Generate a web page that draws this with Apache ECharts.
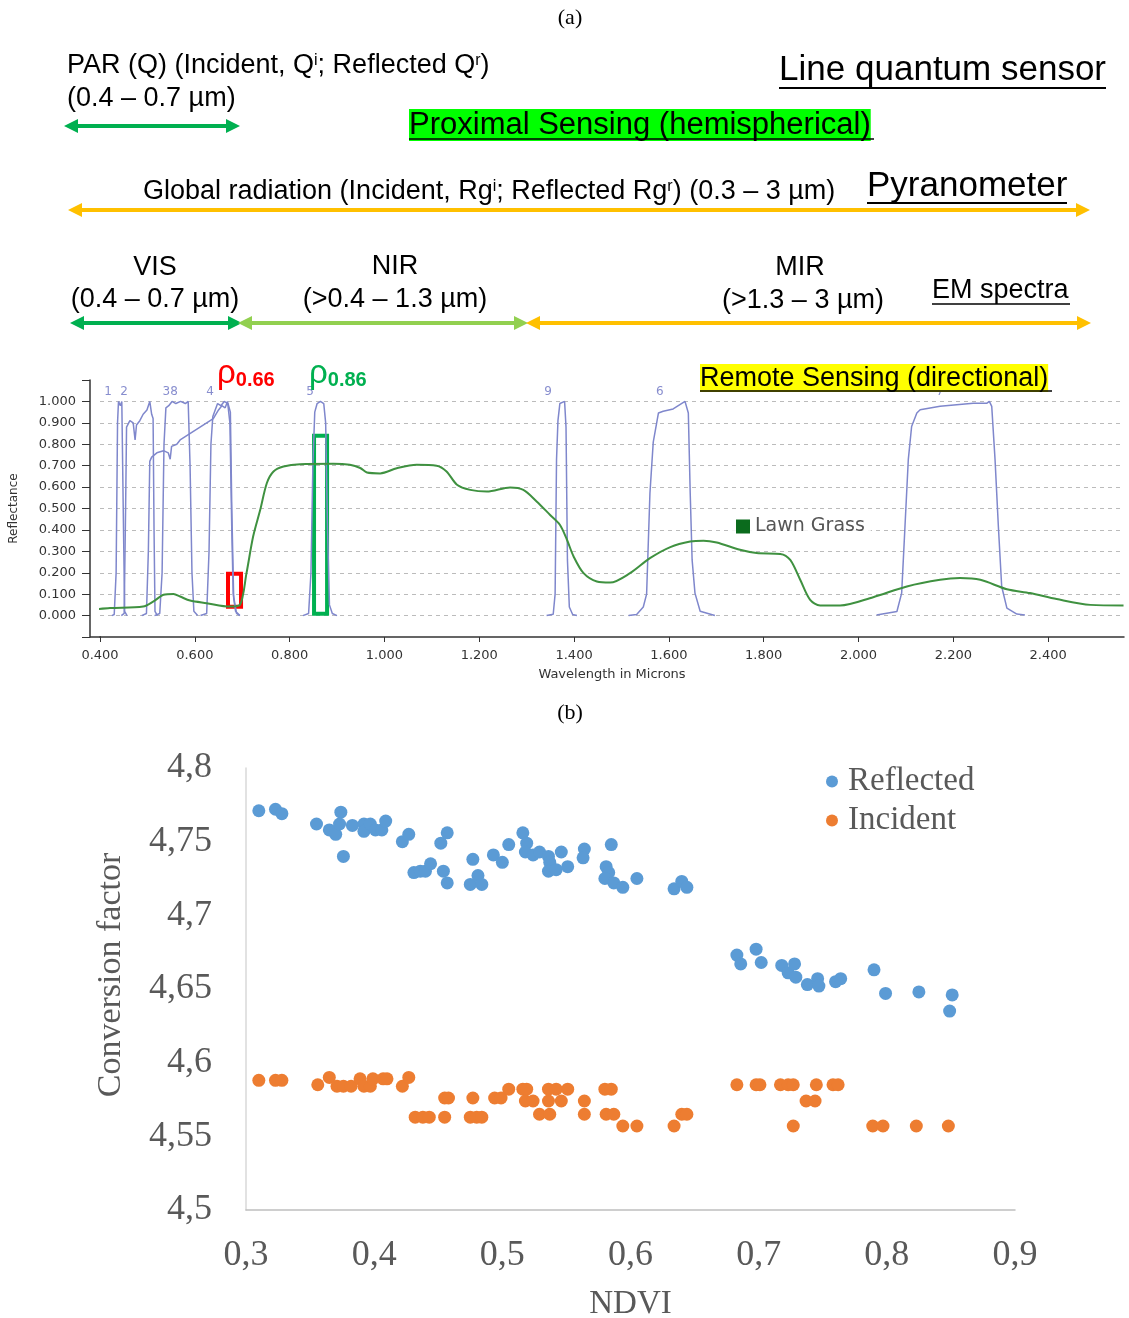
<!DOCTYPE html>
<html style="height: 100%">
<head>
    <meta charset="utf-8">
    <title>Spectra and conversion factor</title>
</head>
<body style="margin: 0">
<div id="container" style="width: 1129px; height: 1318px"></div>

<script src="https://cdn.jsdelivr.net/npm/echarts@6.0.0/dist/echarts.min.js" type="text/javascript"></script>

<script type="text/javascript">

    // (a) lawn grass reflectance, [wavelength µm, reflectance]
    var lawnGrass = [[0.396,0.030],[0.421,0.035],[0.491,0.042],[0.512,0.065],[0.534,0.097],[0.555,0.101],[0.569,0.089],
        [0.590,0.070],[0.625,0.058],[0.674,0.042],[0.695,0.050],[0.709,0.198],[0.723,0.369],[0.738,0.494],[0.752,0.619],
        [0.766,0.673],[0.787,0.696],[0.822,0.707],[0.892,0.709],[0.927,0.704],[0.949,0.689],[0.963,0.668],[0.991,0.664],
        [1.026,0.688],[1.068,0.704],[1.110,0.700],[1.131,0.673],[1.153,0.611],[1.181,0.587],[1.216,0.579],[1.265,0.598],
        [1.293,0.587],[1.321,0.533],[1.349,0.471],[1.370,0.424],[1.385,0.354],[1.399,0.276],[1.420,0.198],[1.448,0.159],
        [1.476,0.154],[1.518,0.198],[1.560,0.268],[1.603,0.320],[1.645,0.346],[1.673,0.350],[1.701,0.341],[1.750,0.307],
        [1.785,0.292],[1.835,0.288],[1.856,0.260],[1.877,0.167],[1.898,0.073],[1.919,0.047],[1.961,0.047],[2.031,0.086],
        [2.102,0.136],[2.172,0.167],[2.214,0.175],[2.257,0.167],[2.313,0.123],[2.362,0.105],[2.418,0.077],[2.489,0.050],
        [2.559,0.047]];

    // sensor band responses
    var band1 = [[0.425,0],[0.430,0.005],[0.434,0.2],[0.437,0.9],[0.439,1.0],[0.443,0.98],[0.446,1.0],[0.449,0.5],[0.452,0.02],[0.457,0]];
    var band2 = [[0.445,0],[0.451,0.01],[0.454,0.5],[0.456,0.88],[0.463,0.91],[0.470,0.90],[0.474,0.82],[0.477,0.89],
        [0.484,0.91],[0.491,0.94],[0.499,0.96],[0.505,1.0],[0.509,0.94],[0.512,0.92],[0.514,0.4],[0.516,0.02],[0.521,0]];
    var band3 = [[0.515,0],[0.526,0.01],[0.531,0.2],[0.535,0.8],[0.539,0.97],[0.545,0.98],[0.552,1.0],[0.560,0.99],
        [0.570,1.0],[0.580,0.99],[0.586,1.0],[0.590,0.7],[0.594,0.2],[0.598,0.02],[0.606,0]];
    var band4 = [[0.612,0],[0.625,0.01],[0.630,0.3],[0.634,0.8],[0.638,0.93],[0.643,0.96],[0.648,0.99],[0.655,0.98],
        [0.662,1.0],[0.670,0.99],[0.675,0.95],[0.678,0.5],[0.682,0.08],[0.686,0.02],[0.695,0]];
    var band8 = [[0.488,0],[0.498,0.01],[0.502,0.3],[0.505,0.72],[0.509,0.74],[0.520,0.76],[0.534,0.77],[0.544,0.76],
        [0.548,0.73],[0.551,0.79],[0.562,0.80],[0.569,0.82],[0.583,0.84],[0.597,0.86],[0.611,0.88],[0.625,0.90],
        [0.639,0.92],[0.650,0.96],[0.657,0.98],[0.664,0.97],[0.669,1.0],[0.674,0.9],[0.678,0.4],[0.681,0.1],[0.688,0.01],[0.695,0]];
    var band5 = [[0.828,0],[0.840,0.01],[0.845,0.2],[0.849,0.7],[0.853,0.95],[0.858,0.99],[0.865,1.0],[0.872,0.99],
        [0.876,0.9],[0.880,0.4],[0.884,0.05],[0.890,0.01],[0.900,0]];
    var band9 = [[1.342,0],[1.356,0.006],[1.360,0.1],[1.363,0.73],[1.366,0.91],[1.370,0.99],[1.380,1.0],[1.383,0.88],
        [1.386,0.26],[1.390,0.04],[1.397,0.005],[1.406,0]];
    var band6 = [[1.515,0],[1.532,0.005],[1.546,0.04],[1.553,0.10],[1.560,0.57],[1.567,0.81],[1.578,0.946],[1.588,0.954],
        [1.609,0.965],[1.634,1.0],[1.641,0.946],[1.645,0.57],[1.649,0.26],[1.655,0.105],[1.666,0.02],[1.697,0]];
    var band7 = [[2.038,0.003],[2.081,0.019],[2.091,0.105],[2.098,0.416],[2.105,0.728],[2.112,0.883],[2.123,0.946],
        [2.130,0.961],[2.172,0.977],[2.242,0.992],[2.271,0.992],[2.276,1.0],[2.281,0.977],[2.288,0.728],[2.295,0.416],
        [2.302,0.136],[2.313,0.035],[2.334,0.007],[2.351,0.003]];
    var bandNames = ['1', '2', '38', '4', '5', '9', '6', '7'];
    var bandNameX = [0.417, 0.451, 0.548, 0.632, 0.843, 1.345, 1.581, 2.172];

    // boxes marking the red (0.66) and NIR (0.86) reflectances
    var redBox = [[0.670, 0.041], [0.6975, 0.195]];
    var nirBox = [[0.8515, 0.008], [0.879, 0.84]];

    // (b) conversion factor vs NDVI
    var reflected = [[0.310,4.771],[0.323,4.772],[0.328,4.769],[0.355,4.762],[0.374,4.770],[0.365,4.758],[0.370,4.755],
        [0.373,4.762],[0.383,4.761],[0.392,4.762],[0.392,4.757],[0.397,4.762],[0.401,4.758],[0.406,4.758],[0.409,4.764],
        [0.376,4.740],[0.422,4.750],[0.427,4.755],[0.452,4.749],[0.457,4.756],[0.431,4.729],[0.436,4.730],[0.440,4.730],
        [0.444,4.735],[0.454,4.730],[0.457,4.722],[0.477,4.738],[0.475,4.721],[0.481,4.727],[0.484,4.721],[0.493,4.741],
        [0.500,4.736],[0.505,4.748],[0.516,4.756],[0.519,4.749],[0.518,4.743],[0.524,4.741],[0.529,4.743],[0.536,4.740],
        [0.537,4.736],[0.536,4.730],[0.542,4.731],[0.546,4.743],[0.551,4.733],[0.564,4.745],[0.563,4.739],[0.585,4.748],
        [0.581,4.733],[0.583,4.729],[0.580,4.725],[0.587,4.722],[0.594,4.719],[0.605,4.725],[0.634,4.718],[0.640,4.723],
        [0.644,4.719],[0.683,4.673],[0.686,4.667],[0.698,4.677],[0.702,4.668],[0.718,4.666],[0.723,4.661],[0.728,4.667],
        [0.729,4.658],[0.738,4.653],[0.746,4.657],[0.747,4.652],[0.760,4.655],[0.764,4.657],[0.790,4.663],[0.799,4.647],
        [0.825,4.648],[0.851,4.646],[0.849,4.635]];
    var incident = [[0.310,4.588],[0.323,4.588],[0.328,4.588],[0.356,4.585],[0.365,4.590],[0.371,4.584],[0.376,4.584],
        [0.382,4.584],[0.389,4.589],[0.392,4.584],[0.397,4.584],[0.399,4.589],[0.407,4.589],[0.410,4.589],[0.422,4.584],
        [0.427,4.590],[0.455,4.576],[0.458,4.576],[0.477,4.576],[0.494,4.576],[0.432,4.563],[0.438,4.563],[0.443,4.563],
        [0.455,4.563],[0.475,4.563],[0.480,4.563],[0.484,4.563],[0.499,4.576],[0.505,4.582],[0.516,4.582],[0.519,4.582],
        [0.518,4.574],[0.524,4.574],[0.529,4.565],[0.537,4.565],[0.536,4.582],[0.542,4.582],[0.551,4.582],[0.536,4.574],
        [0.546,4.574],[0.564,4.574],[0.564,4.565],[0.580,4.582],[0.585,4.582],[0.581,4.565],[0.587,4.565],[0.594,4.557],
        [0.605,4.557],[0.634,4.557],[0.640,4.565],[0.644,4.565],[0.683,4.585],[0.698,4.585],[0.701,4.585],[0.717,4.585],
        [0.723,4.585],[0.727,4.585],[0.745,4.585],[0.758,4.585],[0.762,4.585],[0.737,4.574],[0.744,4.574],[0.727,4.557],
        [0.789,4.557],[0.797,4.557],[0.823,4.557],[0.848,4.557]];

    var sans = 'Liberation Sans';
    var serif = 'Liberation Serif';

    function arrow(x1, x2, y, color, leftHead, rightHead) {
        var h = 14, w = 7;
        var els = [{
            type: 'line', z: 10,
            shape: {x1: x1 + (leftHead ? h - 2 : 0), y1: y, x2: x2 - (rightHead ? h - 2 : 0), y2: y},
            style: {stroke: color, lineWidth: 4}
        }];
        if (leftHead) els.push({type: 'polygon', z: 10, shape: {points: [[x1, y], [x1 + h, y - w], [x1 + h, y + w]]}, style: {fill: color}});
        if (rightHead) els.push({type: 'polygon', z: 10, shape: {points: [[x2, y], [x2 - h, y - w], [x2 - h, y + w]]}, style: {fill: color}});
        return els;
    }

    function text(x, y, str, size, align, extra) {
        var style = {
            text: str, x: x, y: y, fontSize: size, fontFamily: sans, fill: '#000',
            align: align, textAlign: align, verticalAlign: 'middle', textVerticalAlign: 'middle',
            rich: {s: {fontSize: Math.round(size * 0.6), fontFamily: sans, verticalAlign: 'top'}}
        };
        for (var k in extra) style[k] = extra[k];
        return {type: 'text', z: 20, style: style};
    }

    function underline(x1, x2, y, width) {
        return {type: 'line', z: 21, shape: {x1: x1, y1: y, x2: x2, y2: y}, style: {stroke: '#000', lineWidth: width || 2}};
    }

    function rho(x, sub, color) {
        return {
            type: 'text', z: 20,
            style: {
                text: '{r|ρ}{n|' + sub + '}', x: x, y: 374, fill: color,
                align: 'left', verticalAlign: 'middle', textAlign: 'left', textVerticalAlign: 'middle',
                rich: {
                    r: {fontSize: 33, fontFamily: sans, fill: color, verticalAlign: 'bottom'},
                    n: {fontSize: 20, fontFamily: sans, fontWeight: 'bold', fill: color, verticalAlign: 'bottom'}
                }
            }
        };
    }

    var graphics = [
        text(570, 18, '(a)', 22, 'center', {fontFamily: serif}),
        text(570, 713, '(b)', 22, 'center', {fontFamily: serif}),
        text(67, 66, 'PAR (Q) (Incident, Q{s|i}; Reflected Q{s|r})', 27, 'left'),
        text(67, 99, '(0.4 – 0.7 µm)', 27, 'left'),
        text(1106, 70, 'Line quantum sensor', 35, 'right'),
        underline(779, 1106, 88),
        text(409, 125, 'Proximal Sensing (hemispherical)', 31, 'left', {backgroundColor: '#00ff00', padding: [1, 0, 0, 0]}),
        underline(409, 874, 139, 1.5),
        text(143, 192, 'Global radiation (Incident, Rg{s|i}; Reflected Rg{s|r}) (0.3 – 3 µm)', 27, 'left'),
        text(867, 186, 'Pyranometer', 35, 'left'),
        underline(867, 1067, 203),
        text(155, 268, 'VIS', 27, 'center'),
        text(155, 300, '(0.4 – 0.7 µm)', 27, 'center'),
        text(395, 267, 'NIR', 27, 'center'),
        text(395, 300, '(>0.4 – 1.3 µm)', 27, 'center'),
        text(800, 268, 'MIR', 27, 'center'),
        text(803, 301, '(>1.3 – 3 µm)', 27, 'center'),
        text(932, 291, 'EM spectra', 27, 'left'),
        underline(932, 1070, 304, 1.5),
        text(700, 378, 'Remote Sensing (directional)', 27, 'left', {backgroundColor: '#ffff00', padding: [1, 0, 0, 0]}),
        underline(700, 1052, 391, 1.5),
        rho(217, '0.66', '#ff0000'),
        rho(309, '0.86', '#00b050'),
        // piece of x axis line left of the first tick
        {type: 'line', z: 5, shape: {x1: 90, y1: 637, x2: 101, y2: 637}, style: {stroke: '#333', lineWidth: 1.5}}
    ];
    graphics = graphics
        .concat(arrow(64, 240, 126, '#00b050', true, true))
        .concat(arrow(68, 1090, 210, '#ffc000', true, true))
        .concat(arrow(70, 242, 323, '#00b050', true, true))
        .concat(arrow(238, 528, 323, '#92d050', true, true))
        .concat(arrow(526, 1091, 323, '#ffc000', true, true));

    var bands = [band1, band2, band3, band4, band8, band5, band9, band6, band7];
    var bandSeries = bands.map(function (d) {
        return {
            type: 'line', xAxisIndex: 0, yAxisIndex: 0, data: d, symbol: 'none', silent: true,
            lineStyle: {color: '#7f87cc', width: 1.5}, z: 2
        };
    });

    var bandLabelData = bandNames.map(function (n, i) { return [bandNameX[i], 1.045, n]; });

    var dom = document.getElementById('container');
    var myChart = echarts.init(dom);

    var option = {
        animation: false,
        backgroundColor: '#fff',
        graphic: {elements: graphics},
        legend: [
            {
                data: [{name: 'Lawn Grass', itemStyle: {color: '#0b6b1d'}}],
                left: 730, top: 512, icon: 'rect', itemWidth: 14, itemHeight: 14,
                padding: [5, 6, 5, 6],
                backgroundColor: 'rgba(255,255,255,0.85)',
                textStyle: {fontFamily: 'DejaVu Sans', fontSize: 19, color: '#555'}
            },
            {
                data: ['Reflected', 'Incident'],
                orient: 'vertical', left: 821, top: 760, icon: 'circle', itemWidth: 22, itemHeight: 12, itemGap: 6,
                textStyle: {fontFamily: serif, fontSize: 33, color: '#595959'}
            }
        ],
        grid: [
            {left: 100, top: 380, width: 1024, height: 257, outerBoundsMode: 'none'},
            {left: 246, top: 768, width: 769, height: 442, outerBoundsMode: 'none'}
        ],
        xAxis: [
            {
                type: 'value', gridIndex: 0, min: 0.4, max: 2.56, interval: 0.2,
                name: 'Wavelength in Microns', nameLocation: 'middle', nameGap: 31,
                nameTextStyle: {fontFamily: 'DejaVu Sans', fontSize: 13, color: '#333'},
                axisLine: {onZero: false, lineStyle: {color: '#333', width: 1.5}},
                axisTick: {length: 5, lineStyle: {color: '#333'}},
                splitLine: {show: false},
                axisLabel: {
                    fontFamily: 'DejaVu Sans', fontSize: 13, color: '#333', margin: 12, showMaxLabel: false,
                    formatter: function (v) {
                        return Math.abs(v / 0.2 - Math.round(v / 0.2)) > 1e-6 ? '' : v.toFixed(3);
                    }
                }
            },
            {
                type: 'value', gridIndex: 1, min: 0.3, max: 0.9, interval: 0.1,
                name: 'NDVI', nameLocation: 'middle', nameGap: 78,
                nameTextStyle: {fontFamily: serif, fontSize: 33, color: '#595959'},
                axisLine: {onZero: false, lineStyle: {color: '#bfbfbf', width: 1.5}},
                axisTick: {show: false},
                splitLine: {show: false},
                axisLabel: {
                    fontFamily: serif, fontSize: 36, color: '#595959', margin: 28,
                    formatter: function (v) { return String(Math.round(v * 100) / 100).replace('.', ','); }
                }
            }
        ],
        yAxis: [
            {
                type: 'value', gridIndex: 0, min: -0.1, max: 1.1, interval: 0.1, offset: 10,
                name: 'Reflectance', nameLocation: 'middle', nameGap: 70,
                nameTextStyle: {fontFamily: 'DejaVu Sans', fontSize: 12, color: '#333'},
                axisLine: {show: true, onZero: false, lineStyle: {color: '#333', width: 1.5}},
                axisTick: {show: true, length: 8, lineStyle: {color: '#333'}},
                splitLine: {show: true, showMinLine: false, showMaxLine: false, lineStyle: {color: '#bbb', type: [4, 4]}},
                axisLabel: {
                    fontFamily: 'DejaVu Sans', fontSize: 13, color: '#333', margin: 14,
                    formatter: function (v) { return (v < -0.05 || v > 1.05) ? '' : v.toFixed(3); }
                }
            },
            {
                type: 'value', gridIndex: 1, min: 4.5, max: 4.8, interval: 0.05,
                name: 'Conversion factor', nameLocation: 'middle', nameGap: 118,
                nameTextStyle: {fontFamily: serif, fontSize: 34, color: '#595959', padding: [0, 0, 0, 28]},
                axisLine: {show: true, onZero: false, lineStyle: {color: '#d9d9d9', width: 1.5}},
                axisTick: {show: false},
                splitLine: {show: false},
                axisLabel: {
                    fontFamily: serif, fontSize: 36, color: '#595959', margin: 34,
                    formatter: function (v) { return String(Math.round(v * 100) / 100).replace('.', ','); }
                }
            }
        ],
        series: bandSeries.concat([
            {
                name: 'bandNames', type: 'scatter', xAxisIndex: 0, yAxisIndex: 0, data: bandLabelData,
                symbolSize: 0, silent: true, z: 3,
                label: {
                    show: true, position: 'inside', color: '#6970c2', fontFamily: 'DejaVu Sans', fontSize: 12,
                    formatter: function (p) { return p.value[2]; }
                }
            },
            {
                name: 'Lawn Grass', type: 'line', xAxisIndex: 0, yAxisIndex: 0, data: lawnGrass,
                symbol: 'none', smooth: 0.3, z: 4,
                itemStyle: {color: '#3f9140'},
                lineStyle: {color: '#3f9140', width: 2},
                markArea: {
                    silent: true,
                    data: [
                        [{xAxis: redBox[0][0], yAxis: redBox[0][1],
                            itemStyle: {color: 'rgba(0,0,0,0)', borderColor: '#ff0000', borderWidth: 4}},
                            {xAxis: redBox[1][0], yAxis: redBox[1][1]}],
                        [{xAxis: nirBox[0][0], yAxis: nirBox[0][1],
                            itemStyle: {color: 'rgba(0,0,0,0)', borderColor: '#00b050', borderWidth: 4}},
                            {xAxis: nirBox[1][0], yAxis: nirBox[1][1]}]
                    ]
                }
            },
            {
                name: 'Reflected', type: 'scatter', xAxisIndex: 1, yAxisIndex: 1, data: reflected,
                symbolSize: 13, itemStyle: {color: '#5b9bd5', opacity: 1}
            },
            {
                name: 'Incident', type: 'scatter', xAxisIndex: 1, yAxisIndex: 1, data: incident,
                symbolSize: 13, itemStyle: {color: '#ed7d31', opacity: 1}
            }
        ])
    };

    myChart.setOption(option);
</script>
</body>
</html>
